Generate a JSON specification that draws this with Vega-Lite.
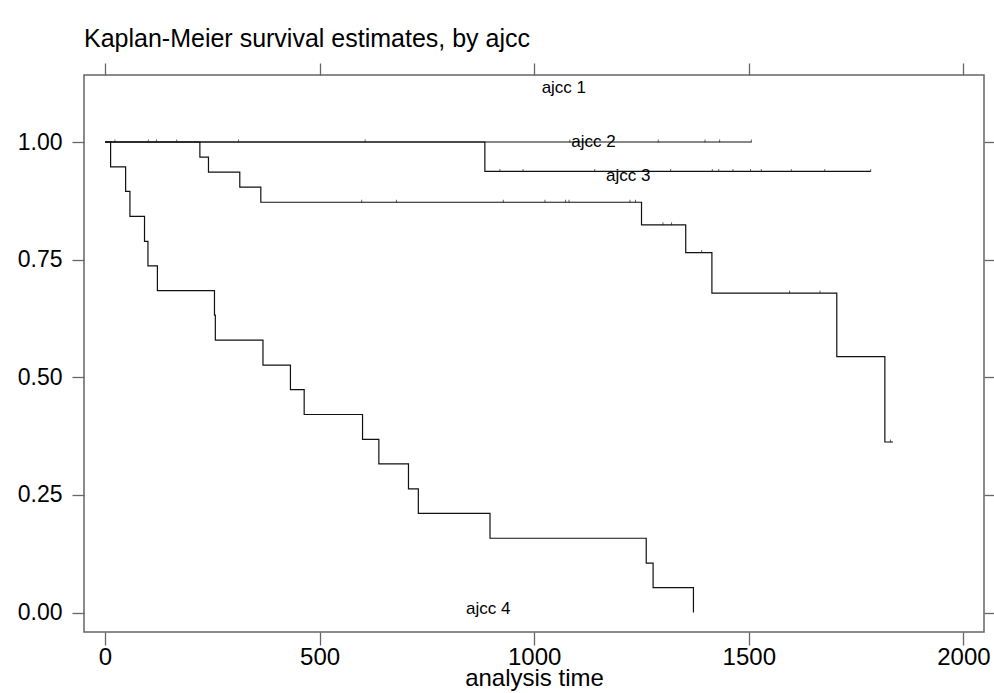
{
  "$schema": "https://vega.github.io/schema/vega-lite/v6.json",
  "width": 900,
  "height": 557,
  "autosize": {"type": "none"},
  "padding": {"left": 84, "top": 75, "right": 10, "bottom": 61},
  "background": "white",
  "title": {"text": "Kaplan-Meier survival estimates, by ajcc", "anchor": "start", "frame": "group", "fontSize": 25, "font": "Liberation Sans", "fontWeight": "normal", "color": "black", "offset": -10, "baseline": "alphabetic"},
  "config": {
    "view": {"stroke": "#666666", "strokeWidth": 1.5},
    "axis": {"grid": false, "domain": false, "tickColor": "#666666", "tickWidth": 1.3, "labelColor": "black", "labelFont": "Liberation Sans", "titleFont": "Liberation Sans", "titleColor": "black", "titleFontWeight": "normal"}
  },
  "datasets": {
    "curves": [
      {"g": "ajcc 1", "t": 0, "s": 1}, {"g": "ajcc 1", "t": 1506, "s": 1},
      {"g": "ajcc 2", "t": 0, "s": 1}, {"g": "ajcc 2", "t": 885, "s": 0.9375}, {"g": "ajcc 2", "t": 1784, "s": 0.9375},
      {"g": "ajcc 3", "t": 0, "s": 1}, {"g": "ajcc 3", "t": 221, "s": 0.968}, {"g": "ajcc 3", "t": 241, "s": 0.936}, {"g": "ajcc 3", "t": 314, "s": 0.904}, {"g": "ajcc 3", "t": 363, "s": 0.872}, {"g": "ajcc 3", "t": 1250, "s": 0.824}, {"g": "ajcc 3", "t": 1353, "s": 0.765}, {"g": "ajcc 3", "t": 1414, "s": 0.679}, {"g": "ajcc 3", "t": 1705, "s": 0.544}, {"g": "ajcc 3", "t": 1817, "s": 0.3625}, {"g": "ajcc 3", "t": 1836, "s": 0.3625},
      {"g": "ajcc 4", "t": 0, "s": 1}, {"g": "ajcc 4", "t": 13, "s": 0.947}, {"g": "ajcc 4", "t": 48, "s": 0.895}, {"g": "ajcc 4", "t": 58, "s": 0.842}, {"g": "ajcc 4", "t": 92, "s": 0.789}, {"g": "ajcc 4", "t": 100, "s": 0.737}, {"g": "ajcc 4", "t": 122, "s": 0.684}, {"g": "ajcc 4", "t": 255, "s": 0.632}, {"g": "ajcc 4", "t": 257, "s": 0.579}, {"g": "ajcc 4", "t": 368, "s": 0.526}, {"g": "ajcc 4", "t": 432, "s": 0.474}, {"g": "ajcc 4", "t": 464, "s": 0.421}, {"g": "ajcc 4", "t": 600, "s": 0.368}, {"g": "ajcc 4", "t": 638, "s": 0.316}, {"g": "ajcc 4", "t": 707, "s": 0.263}, {"g": "ajcc 4", "t": 730, "s": 0.211}, {"g": "ajcc 4", "t": 897, "s": 0.158}, {"g": "ajcc 4", "t": 1261, "s": 0.105}, {"g": "ajcc 4", "t": 1277, "s": 0.053}, {"g": "ajcc 4", "t": 1371, "s": 0}
    ],
    "censor": [
      {"t": 23, "s": 1}, {"t": 101, "s": 1}, {"t": 120, "s": 1}, {"t": 167, "s": 1}, {"t": 311, "s": 1}, {"t": 606, "s": 1}, {"t": 1083, "s": 1}, {"t": 1289, "s": 1}, {"t": 1398, "s": 1}, {"t": 1432, "s": 1}, {"t": 1506, "s": 1},
      {"t": 920, "s": 0.9375}, {"t": 974, "s": 0.9375}, {"t": 1141, "s": 0.9375}, {"t": 1318, "s": 0.9375}, {"t": 1415, "s": 0.9375}, {"t": 1430, "s": 0.9375}, {"t": 1463, "s": 0.9375}, {"t": 1504, "s": 0.9375}, {"t": 1529, "s": 0.9375}, {"t": 1599, "s": 0.9375}, {"t": 1677, "s": 0.9375}, {"t": 1784, "s": 0.9375},
      {"t": 598, "s": 0.872}, {"t": 679, "s": 0.872}, {"t": 928, "s": 0.872}, {"t": 1025, "s": 0.872}, {"t": 1073, "s": 0.872}, {"t": 1081, "s": 0.872}, {"t": 1223, "s": 0.872}, {"t": 1236, "s": 0.872},
      {"t": 1300, "s": 0.824}, {"t": 1320, "s": 0.824}, {"t": 1390, "s": 0.765}, {"t": 1595, "s": 0.679}, {"t": 1666, "s": 0.679}, {"t": 1830, "s": 0.3625}
    ],
    "labels": [
      {"label": "ajcc 1", "t": 1069, "s": 1.114},
      {"label": "ajcc 2", "t": 1138, "s": 1.0},
      {"label": "ajcc 3", "t": 1219, "s": 0.928},
      {"label": "ajcc 4", "t": 893, "s": 0.008}
    ]
  },
  "layer": [
    {
      "data": {"name": "curves"},
      "mark": {"type": "line", "interpolate": "step-after", "color": "#111111", "strokeWidth": 1.2},
      "encoding": {
        "x": {"field": "t", "type": "quantitative", "scale": {"domain": [-49, 2048], "nice": false, "zero": false},
              "axis": {"orient": "bottom", "values": [0, 500, 1000, 1500, 2000], "format": "d", "tickSize": 13, "labelPadding": 0, "labelFontSize": 24, "title": "analysis time", "titleFontSize": 24, "titlePadding": -3}},
        "y": {"field": "s", "type": "quantitative", "scale": {"domain": [-0.0412, 1.1424], "nice": false, "zero": false},
              "axis": {"orient": "left", "values": [0, 0.25, 0.5, 0.75, 1], "format": ".2f", "tickSize": 12, "labelPadding": 10, "labelFontSize": 23, "title": null}},
        "detail": {"field": "g", "type": "nominal"}
      }
    },
    {
      "data": {"name": "censor"},
      "mark": {"type": "tick", "orient": "vertical", "size": 3, "thickness": 1, "color": "#222222", "yOffset": -1},
      "encoding": {
        "x": {"field": "t", "type": "quantitative", "axis": {"orient": "top", "values": [0, 500, 1000, 1500, 2000], "tickSize": 12, "labels": false, "title": null}},
        "y": {"field": "s", "type": "quantitative", "axis": {"orient": "right", "values": [0, 0.25, 0.5, 0.75, 1], "tickSize": 10, "labels": false, "title": null}}
      }
    },
    {
      "data": {"name": "labels"},
      "mark": {"type": "text", "font": "Liberation Sans", "fontSize": 17, "color": "black", "align": "center", "baseline": "middle"},
      "encoding": {
        "x": {"field": "t", "type": "quantitative", "axis": null},
        "y": {"field": "s", "type": "quantitative", "axis": null},
        "text": {"field": "label", "type": "nominal"}
      }
    }
  ],
  "resolve": {"axis": {"x": "independent", "y": "independent"}}
}
